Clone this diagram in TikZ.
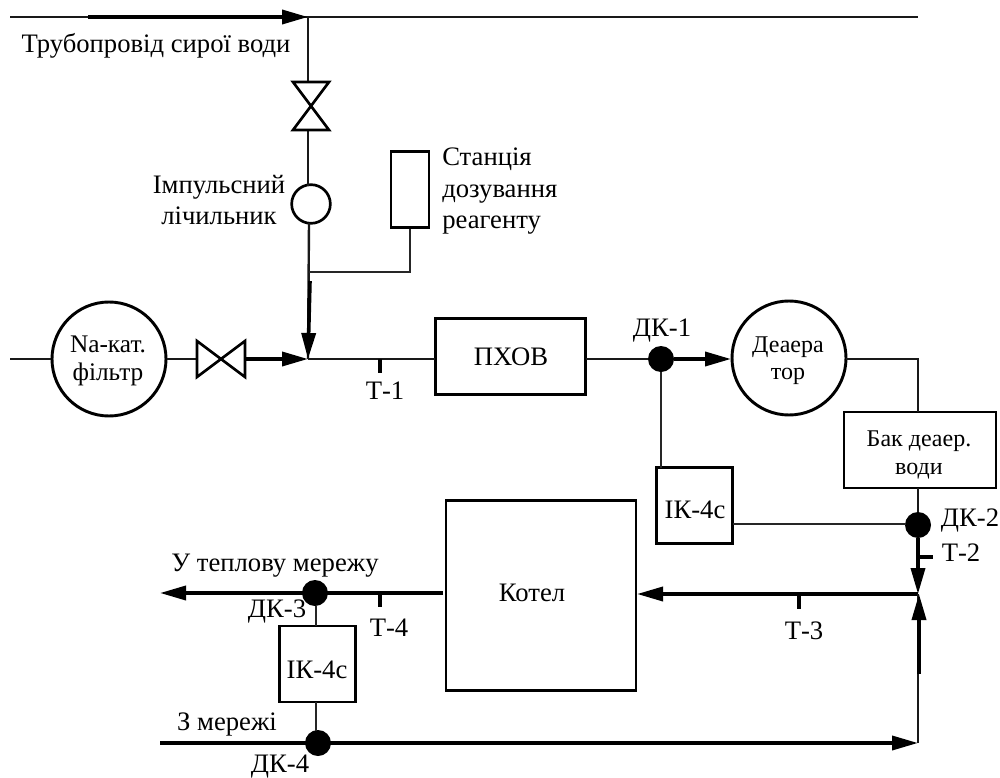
\documentclass[tikz,border=0pt]{standalone}
\usepackage{fontspec}
\setmainfont{Liberation Serif}
\usetikzlibrary{arrows.meta}
\tikzset{
  x=0.75pt,y=-0.75pt,
  pipe/.style={line width=1.8pt,draw=black!90},
  signal/.style={line width=1.1pt,draw=black!85},
  flow/.style={line width=2.7pt,draw=black,-{Triangle[length=19.5pt,width=10.5pt]}},
  tick/.style={line width=3pt,draw=black},
  unit/.style={draw=black,line width=2.2pt,fill=white,inner sep=0pt,align=center},
  round unit/.style={unit,circle},
  sensor/.style={circle,fill=black,inner sep=0pt,minimum size=19.5pt},
  lbl/.style={inner sep=0pt,align=center,font=\fontsize{20}{23.6}\selectfont},
  small lbl/.style={lbl,font=\fontsize{18}{20.5}\selectfont},
  valve/.style={draw=black,line width=2pt,fill=white,line join=miter}
}
\begin{document}
\begin{tikzpicture}
\useasboundingbox (0,0) rectangle (1000,778);
% junctions
\coordinate (tl) at (10,17);
\coordinate (tr) at (918,17);
\coordinate (tj) at (308,17);
\coordinate (j1) at (308,359);
\coordinate (jr) at (309,272);
\coordinate (w1) at (10,359);
\coordinate (c1) at (918,359);
\coordinate (j3) at (918,594);
\coordinate (c2) at (918,743);
\coordinate (outL) at (160,593);
\coordinate (inL) at (160,743);
\coordinate (vtTop) at (308,82);
\coordinate (vtBot) at (308,130);
\coordinate (impTop) at (308,186);
\coordinate (impBot) at (309,223);
\coordinate (f1) at (310,281);
\coordinate (f2) at (245,359);
\coordinate (f3) at (88,17);
\coordinate (f4) at (919,674);
\coordinate (f5) at (919,594);
\coordinate (s1) at (733,524);
\coordinate (s2) at (906,524);
\coordinate (k1) at (637,594);
\coordinate (k2) at (443,593);
\coordinate (b1) at (918,412);
\coordinate (b2) at (918,488);
\coordinate (d0) at (731,359);
\coordinate (d1) at (846,359);
\coordinate (p1) at (435,359);
\coordinate (p2) at (586,359);
\coordinate (i1) at (661,468);
\coordinate (i3) at (316,626);
\coordinate (i4) at (316,702);
\coordinate (i5) at (316,731);
\coordinate (i6) at (316,606);
% units
\node[unit,minimum width=28.5pt,minimum height=56.5pt] (reag) at (410,189.5) {};
\node[round unit,minimum size=85.5pt] (naf) at (109,359) {};
\node[unit,minimum width=113pt,minimum height=56.5pt] (pkhov) at (510.5,356.5) {};
\node[round unit,minimum size=85.5pt] (dea) at (789,358) {};
\node[unit,minimum width=114pt,minimum height=57pt] (bak) at (920,450) {};
\node[unit,minimum width=57.5pt,minimum height=56.5pt] (ik1) at (694.5,505.5) {};
\node[unit,minimum width=142.5pt,minimum height=142pt] (kotel) at (541,595.5) {};
\node[unit,minimum width=57.5pt,minimum height=57pt] (ik2) at (317.5,664) {};
\node[unit,circle,minimum size=29pt,line width=2pt] (imp) at (311,204) {};
% sensors
\node[sensor] (dk1) at (661,359) {};
\node[sensor] (dk2) at (918,525) {};
\node[sensor] (dk3) at (315,593) {};
\node[sensor] (dk4) at (318,743) {};
% pipes
\draw[pipe] (tl) -- (tr);
\draw[flow] (f3) -- (tj);
\draw[pipe] (tj) -- (vtTop);
\draw[pipe] (vtBot) -- (impTop);
\draw[pipe] (impBot) -- (j1);
\draw[flow] (f1) -- (j1);
\draw[signal] (reag.south) |- (jr);
\draw[pipe] (w1) -- (naf.west);
\draw[pipe] (naf.east) -- (f2);
\draw[flow] (f2) -- (j1);
\draw[pipe] (j1) -- (p1);
\draw[pipe] (p2) -- (dk1);
\draw[flow] (dk1) -- (d0);
\draw[pipe] (d1) -- (c1) -- (b1);
\draw[pipe] (b2) -- (dk2);
\draw[signal] (dk1) -- (i1);
\draw[signal] (s1) -- (s2);
\draw[flow] (dk2) -- (j3);
\draw[flow] (j3) -- (k1);
\draw[pipe] (j3) -- (c2);
\draw[flow] (f4) -- (f5);
\draw[flow] (inL) -- (c2);
\draw[flow] (k2) -- (outL);
\draw[signal] (i6) -- (i3);
\draw[signal] (i4) -- (i5);
% valve glyphs
\draw[valve] (293,82) -- (329,82) -- (293,130) -- (329,130) -- cycle;
\draw[valve] (197,341) -- (197,377) -- (245,341) -- (245,377) -- cycle;
% ticks
\coordinate (t1) at (380,359);
\coordinate (t2) at (918,557);
\coordinate (t3) at (799,595);
\coordinate (t4) at (380,593);
\draw[tick] (t1) -- ++(0,14);
\draw[tick] (t2) -- ++(15,0);
\draw[tick] (t3) -- ++(0,14);
\draw[tick] (t4) -- ++(0,14);
% labels
\node[lbl] (l1) at (156,46) {Трубопровід сирої води};
\node[lbl,align=left,anchor=north west] (l2) at (442,148) {Станція\\дозування\\реагенту};
\node[lbl] (l3) at (219,200) {Імпульсний\\лічильник};
\node[small lbl,font=\fontsize{19}{20.5}\selectfont] (l4) at (108,361) {Na-кат.\\фільтр};
\node[lbl] (l5) at (511,357) {ПХОВ};
\node[small lbl] (l6) at (788,361) {Деаера\\тор};
\node[small lbl] (l7) at (919,455) {Бак деаер.\\води};
\node[lbl] (l8) at (695,510) {ІК-4с};
\node[lbl] (l9) at (317,670) {ІК-4с};
\node[lbl] (l10) at (532,593) {Котел};
\node[lbl] (l11) at (662,331) {ДК-1};
\node[lbl] (l12) at (970,521) {ДК-2};
\node[lbl] (l13) at (961,553) {Т-2};
\node[lbl] (l14) at (385,391) {Т-1};
\node[lbl] (l15) at (804,631) {Т-3};
\node[lbl] (l16) at (389,628) {Т-4};
\node[lbl] (l17) at (277,612) {ДК-3};
\node[lbl] (l18) at (280,767) {ДК-4};
\node[lbl] (l19) at (227,724) {З мережі};
\node[lbl] (l20) at (275,566) {У теплову мережу};
\end{tikzpicture}
\end{document}
